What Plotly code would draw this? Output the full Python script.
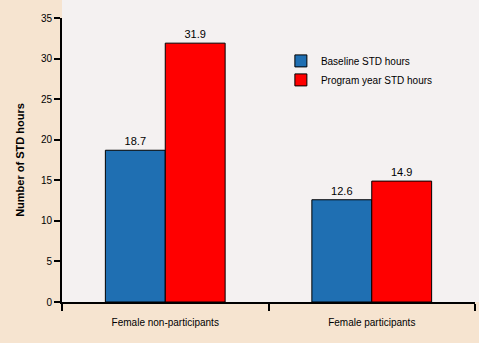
import plotly.graph_objects as go

categories = ["Female non-participants", "Female participants"]
baseline_hours = [18.7, 12.6]
program_hours = [31.9, 14.9]
series_names = ["Baseline STD hours", "Program year STD hours"]
y_ticks = [0, 5, 10, 15, 20, 25, 30, 35]

L, R, T, B = 62, 4, 18, 41
W, H = 479, 343
pw, ph = W - L - R, H - T - B

fig = go.Figure()
fig.add_trace(go.Bar(
    x=categories, y=baseline_hours, name=series_names[0],
    marker=dict(color="#1f6fb2", line=dict(color="black", width=1)),
    text=[f"{v:.1f}" for v in baseline_hours], textposition="outside",
    textfont=dict(size=11, color="black"), cliponaxis=False,
))
fig.add_trace(go.Bar(
    x=categories, y=program_hours, name=series_names[1],
    marker=dict(color="#ff0000", line=dict(color="black", width=1)),
    text=[f"{v:.1f}" for v in program_hours], textposition="outside",
    textfont=dict(size=11, color="black"), cliponaxis=False,
))

# light panel behind the plot area, reaching the top and right edges
fig.add_shape(type="rect", xref="paper", yref="paper",
              x0=0, x1=1 + R / pw, y0=0, y1=1 + T / ph,
              fillcolor="#f4f1f1", line=dict(width=0), layer="below")

fig.update_layout(
    width=W, height=H,
    margin=dict(l=L, r=R, t=T, b=B),
    paper_bgcolor="#f6e4d0",
    plot_bgcolor="#f4f1f1",
    barmode="group", bargap=0.42, bargroupgap=0,
    font=dict(family="Liberation Sans, Arial, sans-serif", size=10, color="black"),
    showlegend=True,
    legend=dict(x=0.53, y=0.90, xanchor="left", yanchor="top",
                bgcolor="rgba(0,0,0,0)", font=dict(size=10),
                itemwidth=30, tracegroupgap=0),
)
fig.update_xaxes(
    showline=True, linecolor="black", linewidth=2,
    ticks="outside", tickson="boundaries", ticklen=7, tickwidth=2, tickcolor="black",
    showgrid=False, tickfont=dict(size=10), ticklabelstandoff=10,
)
fig.update_yaxes(
    range=[0, 35], tickvals=y_ticks, showline=True, linecolor="black", linewidth=2,
    ticks="outside", ticklen=6, tickwidth=2, tickcolor="black",
    showgrid=False, zeroline=False, tickfont=dict(size=10),
    title=dict(text="<b>Number of STD hours</b>", font=dict(size=11), standoff=14),
)

fig.write_html("out.html")
